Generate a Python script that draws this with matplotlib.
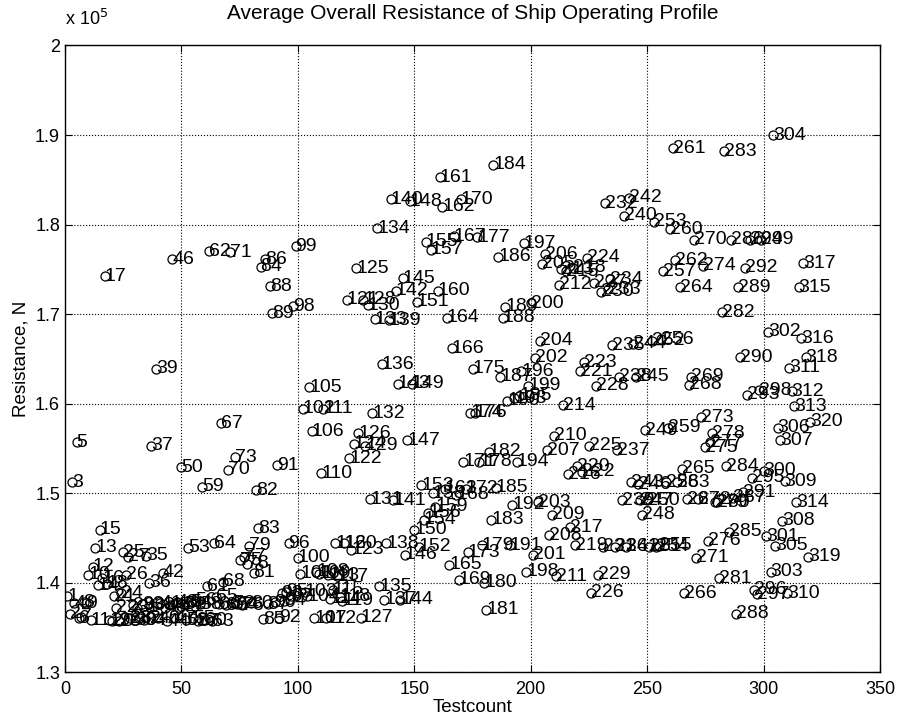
import numpy as np
import matplotlib.pyplot as plt
from matplotlib.ticker import FuncFormatter

plt.rcParams['font.family'] = ['Liberation Sans', 'DejaVu Sans']

# test number 1..320, resistance in units of 10^5 N
testcount = np.arange(1, 321)
resistance = [
    1.385, 1.365, 1.512, 1.377, 1.557, 1.360, 1.362, 1.378, 1.377, 1.409,
    1.358, 1.418, 1.439, 1.397, 1.459, 1.405, 1.742, 1.399, 1.358, 1.357,
    1.385, 1.372, 1.357, 1.388, 1.434, 1.409, 1.429, 1.360, 1.375, 1.358,
    1.372, 1.360, 1.376, 1.358, 1.430, 1.400, 1.553, 1.374, 1.639, 1.360,
    1.377, 1.411, 1.372, 1.357, 1.375, 1.761, 1.360, 1.378, 1.372, 1.529,
    1.376, 1.358, 1.439, 1.378, 1.360, 1.380, 1.357, 1.376, 1.507, 1.358,
    1.396, 1.770, 1.357, 1.444, 1.384, 1.376, 1.578, 1.401, 1.375, 1.526,
    1.769, 1.377, 1.540, 1.376, 1.425, 1.375, 1.429, 1.421, 1.441, 1.377,
    1.411, 1.503, 1.461, 1.753, 1.359, 1.761, 1.376, 1.731, 1.701, 1.378,
    1.531, 1.361, 1.388, 1.380, 1.390, 1.444, 1.385, 1.709, 1.776, 1.428,
    1.410, 1.594, 1.390, 1.385, 1.618, 1.569, 1.360, 1.412, 1.410, 1.522,
    1.594, 1.360, 1.408, 1.382, 1.392, 1.444, 1.407, 1.384, 1.380, 1.444,
    1.716, 1.539, 1.437, 1.555, 1.751, 1.567, 1.361, 1.716, 1.553, 1.710,
    1.493, 1.589, 1.694, 1.796, 1.396, 1.644, 1.381, 1.444, 1.693, 1.828,
    1.492, 1.726, 1.622, 1.381, 1.740, 1.431, 1.559, 1.826, 1.622, 1.459,
    1.714, 1.440, 1.509, 1.470, 1.781, 1.478, 1.772, 1.500, 1.485, 1.726,
    1.853, 1.820, 1.505, 1.696, 1.420, 1.662, 1.787, 1.498, 1.403, 1.828,
    1.535, 1.505, 1.434, 1.590, 1.639, 1.590, 1.786, 1.535, 1.442, 1.400,
    1.370, 1.546, 1.470, 1.867, 1.506, 1.764, 1.630, 1.696, 1.708, 1.603,
    1.442, 1.487, 1.606, 1.535, 1.609, 1.636, 1.779, 1.412, 1.620, 1.712,
    1.431, 1.651, 1.490, 1.670, 1.756, 1.767, 1.548, 1.453, 1.476, 1.564,
    1.407, 1.733, 1.750, 1.598, 1.748, 1.521, 1.462, 1.752, 1.442, 1.530,
    1.636, 1.524, 1.646, 1.763, 1.553, 1.389, 1.735, 1.620, 1.409, 1.725,
    1.440, 1.824, 1.728, 1.739, 1.665, 1.440, 1.548, 1.630, 1.492, 1.810,
    1.440, 1.830, 1.512, 1.667, 1.630, 1.510, 1.492, 1.476, 1.570, 1.492,
    1.440, 1.670, 1.803, 1.440, 1.441, 1.672, 1.748, 1.512, 1.573, 1.795,
    1.885, 1.760, 1.512, 1.730, 1.527, 1.388, 1.493, 1.621, 1.630, 1.783,
    1.428, 1.493, 1.585, 1.754, 1.551, 1.447, 1.557, 1.567, 1.490, 1.490,
    1.405, 1.702, 1.882, 1.530, 1.457, 1.783, 1.495, 1.365, 1.730, 1.652,
    1.501, 1.752, 1.610, 1.783, 1.517, 1.392, 1.387, 1.615, 1.783, 1.525,
    1.452, 1.680, 1.412, 1.900, 1.441, 1.573, 1.559, 1.469, 1.513, 1.388,
    1.640, 1.614, 1.597, 1.490, 1.730, 1.673, 1.757, 1.652, 1.429, 1.580,
]

fig = plt.figure(figsize=(9.05, 7.22), dpi=100)
ax = fig.add_axes([0.0718, 0.069, 0.9006, 0.868])

ax.plot(testcount, resistance, 'o', mfc='none', mec='black', ms=6.5, mew=0.9)
for n, r in zip(testcount, resistance):
    ax.text(n, r, str(n), fontsize=14, ha='left', va='center')

ax.set_xlim(0, 350)
ax.set_ylim(1.3, 2)
ax.set_xticks(range(0, 351, 50))
ax.set_yticks(np.arange(1.3, 2.01, 0.1))
ax.yaxis.set_major_formatter(FuncFormatter(lambda v, p: '%g' % round(v, 1)))
ax.grid(True, linestyle=':', color='black', linewidth=0.8)
ax.tick_params(direction='in', top=True, right=True, labelsize=13, length=5)
ax.tick_params(axis='x', pad=6)
for s in ax.spines.values():
    s.set_linewidth(1.0)

ax.set_title('Average Overall Resistance of Ship Operating Profile', fontsize=15, pad=19)
ax.set_xlabel('Testcount', fontsize=13.5, labelpad=1)
ax.set_ylabel('Resistance, N', fontsize=13.5, labelpad=4)
ax.annotate('x 10$^5$', xy=(0, 1), xycoords='axes fraction', xytext=(0, 15),
            textcoords='offset points', fontsize=13, ha='left', va='baseline')

fig.savefig('out.png')
